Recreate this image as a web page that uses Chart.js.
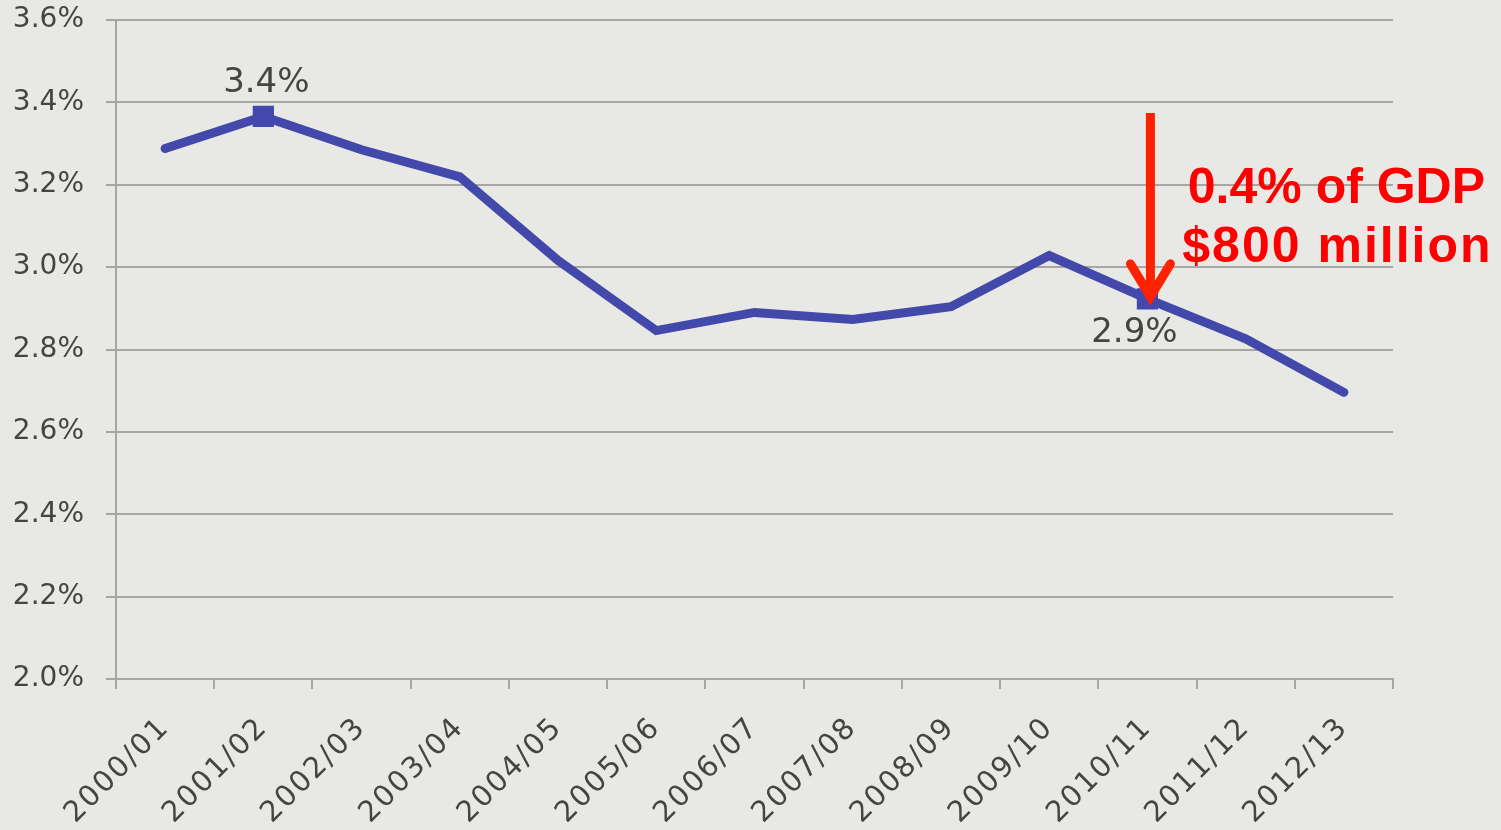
<!DOCTYPE html>
<html>
<head>
<meta charset="utf-8">
<script src="https://cdn.jsdelivr.net/npm/chart.js@4"></script>
<style>
  html, body { margin: 0; padding: 0; background: #E8E8E4; }
  #wrap { width: 1501px; height: 830px; position: relative; }
</style>
</head>
<body>
<div id="wrap"><canvas id="c" width="1501" height="830"></canvas></div>
<script>
// ── data ──
const years = ['2000/01', '2001/02', '2002/03', '2003/04', '2004/05', '2005/06', '2006/07',
  '2007/08', '2008/09', '2009/10', '2010/11', '2011/12', '2012/13'];
const shareOfGdp = [3.288, 3.366, 3.285, 3.219, 3.016, 2.846, 2.890, 2.873, 2.904, 3.028, 2.923, 2.826, 2.696];
const yTicks = [2.0, 2.2, 2.4, 2.6, 2.8, 3.0, 3.2, 3.4, 3.6];
const markedIdx = [1, 10];
const markedLabels = ['3.4%', '2.9%'];
const arrowFrom = 3.374;       // arrow starts at this level above 2010/11
const noteLines = ['0.4% of GDP', '$800 million'];

const FONT = "'DejaVu Sans', 'Verdana', sans-serif";
const TEXT = '#444444';
const GRID = '#A6A6A4';
const LINE = '#4349AB';
const RED = '#FF2200';

const annotations = {
  id: 'annotations',
  afterDatasetsDraw(chart) {
    const { ctx, scales: { x, y } } = chart;
    ctx.save();
    ctx.font = `34px ${FONT}`;
    ctx.fillStyle = TEXT;
    ctx.textAlign = 'center';
    ctx.textBaseline = 'middle';
    // value labels at marked points
    const p1 = x.getPixelForValue(markedIdx[0]), v1 = y.getPixelForValue(shareOfGdp[markedIdx[0]]);
    ctx.fillText(markedLabels[0], p1 + 3, v1 - 33);
    const p2 = x.getPixelForValue(markedIdx[1]), v2 = y.getPixelForValue(shareOfGdp[markedIdx[1]]);
    ctx.fillText(markedLabels[1], p2 - 13, v2 + 34);

    // red arrow
    const ax = p2 + 3;
    const top = y.getPixelForValue(arrowFrom);
    const tip = v2 + 3;
    ctx.strokeStyle = RED;
    ctx.lineWidth = 9;
    ctx.lineCap = 'butt';
    ctx.beginPath();
    ctx.moveTo(ax, top);
    ctx.lineTo(ax, tip - 4);
    ctx.stroke();
    ctx.lineCap = 'round';
    ctx.lineJoin = 'miter';
    ctx.beginPath();
    ctx.moveTo(ax - 20, tip - 38);
    ctx.lineTo(ax, tip - 5);
    ctx.lineTo(ax + 20, tip - 38);
    ctx.stroke();

    // note text
    ctx.fillStyle = '#FF0000';
    ctx.font = `bold 50px 'Liberation Sans', Arial, sans-serif`;
    ctx.textAlign = 'center';
    ctx.textBaseline = 'alphabetic';
    ctx.letterSpacing = '0px';
    ctx.fillText(noteLines[0], ax + 186, top + 90);
    ctx.letterSpacing = '2px';
    ctx.fillText(noteLines[1], ax + 187, top + 149);
    ctx.restore();
  }
};

// x labels in the original are loosely spaced
function spaceXLabels(s) {
  if (s._spaced) return;
  const orig = s.drawLabels.bind(s);
  s.drawLabels = function (area) {
    this.ctx.save();
    this.ctx.letterSpacing = '2px';
    orig(area);
    this.ctx.restore();
  };
  s._spaced = true;
}

new Chart(document.getElementById('c'), {
  type: 'line',
  data: {
    labels: years,
    datasets: [{
      data: shareOfGdp,
      borderColor: LINE,
      backgroundColor: LINE,
      borderWidth: 9,
      borderCapStyle: 'round',
      borderJoinStyle: 'miter',
      tension: 0,
      pointStyle: 'rect',
      pointBorderWidth: 0,
      pointRadius: ctx => markedIdx.includes(ctx.dataIndex) ? 15 : 0,
      pointHoverRadius: ctx => markedIdx.includes(ctx.dataIndex) ? 15 : 0,
    }]
  },
  options: {
    responsive: false,
    animation: false,
    devicePixelRatio: 1,
    layout: { autoPadding: false, padding: { top: 20, right: 108, bottom: 0, left: 0 } },
    plugins: { legend: { display: false }, tooltip: { enabled: false } },
    scales: {
      x: {
        offset: true,
        grid: { offset: true, drawOnChartArea: false, color: GRID, lineWidth: 2, tickLength: 10 },
        border: { color: GRID, width: 2 },
        ticks: { color: TEXT, font: { family: FONT, size: 29 }, minRotation: 45, maxRotation: 45, padding: 22 },
        afterFit: s => { s.height = 151; s.paddingLeft = 0; s.paddingRight = 0; spaceXLabels(s); }
      },
      y: {
        min: 2.0, max: 3.6,
        afterBuildTicks: s => { s.ticks = yTicks.map(v => ({ value: v })); },
        grid: { color: GRID, lineWidth: 2, tickLength: 10 },
        border: { color: GRID, width: 2 },
        ticks: { color: TEXT, font: { family: FONT, size: 28 }, padding: 22, callback: v => v.toFixed(1) + '%' },
        afterFit: s => { s.width = 116; s.paddingTop = 0; s.paddingBottom = 0; }
      }
    }
  },
  plugins: [annotations]
});
</script>
</body>
</html>
